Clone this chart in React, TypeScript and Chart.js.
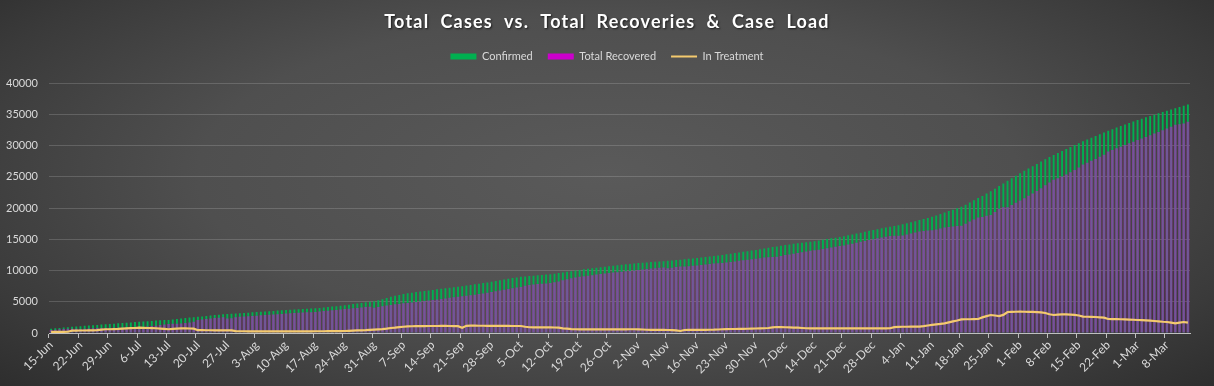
import React, { useEffect, useRef } from "react";
import { Chart, registerables } from "chart.js";

Chart.register(...registerables);

const TITLE = "Total  Cases  vs.  Total  Recoveries  &  Case  Load";
const SERIES_NAMES = ["Confirmed", "Total Recovered", "In Treatment"];
const SERIES_COLORS = ["#00b050", "#cc00cc", "#f4ca6e"];
const START_DATE = "2020-06-15";
const DAY_COUNT = 272;
const MONTHS = ["Jan", "Feb", "Mar", "Apr", "May", "Jun", "Jul", "Aug", "Sep", "Oct", "Nov", "Dec"];
const TICK_EVERY = 7;
const Y_TICKS = [0, 5000, 10000, 15000, 20000, 25000, 30000, 35000, 40000];

// one row per week, starting 15-Jun
const confirmed: number[] = [
  700, 760, 820, 880, 930, 990, 1050,
  1100, 1150, 1200, 1250, 1300, 1350, 1400,
  1450, 1500, 1550, 1600, 1650, 1700, 1750,
  1800, 1840, 1890, 1940, 1990, 2030, 2070,
  2100, 2170, 2240, 2320, 2400, 2470, 2540,
  2600, 2660, 2730, 2800, 2870, 2930, 2990,
  3050, 3090, 3140, 3180, 3220, 3260, 3310,
  3350, 3400, 3440, 3490, 3540, 3590, 3630,
  3680, 3720, 3760, 3800, 3840, 3880, 3910,
  3950, 4020, 4090, 4160, 4230, 4300, 4370,
  4450, 4540, 4630, 4720, 4810, 4910, 5000,
  5100, 5250, 5400, 5600, 5800, 5950, 6100,
  6250, 6350, 6450, 6550, 6650, 6730, 6820,
  6900, 6990, 7080, 7170, 7250, 7340, 7420,
  7500, 7600, 7700, 7800, 7900, 8000, 8100,
  8200, 8310, 8430, 8550, 8670, 8790, 8900,
  9000, 9060, 9120, 9180, 9240, 9300, 9350,
  9400, 9500, 9600, 9700, 9800, 9900, 10000,
  10100, 10190, 10280, 10370, 10460, 10540, 10620,
  10700, 10770, 10840, 10910, 10990, 11060, 11130,
  11200, 11250, 11300, 11350, 11400, 11450, 11500,
  11550, 11610, 11680, 11740, 11810, 11870, 11940,
  12000, 12080, 12170, 12250, 12340, 12420, 12510,
  12600, 12700, 12800, 12900, 13000, 13100, 13200,
  13300, 13410, 13530, 13640, 13760, 13870, 13990,
  14100, 14190, 14280, 14370, 14450, 14540, 14620,
  14700, 14810, 14930, 15040, 15160, 15270, 15390,
  15500, 15640, 15780, 15920, 16070, 16210, 16360,
  16500, 16630, 16760, 16890, 17020, 17150, 17270,
  17400, 17570, 17740, 17910, 18080, 18250, 18420,
  18600, 18830, 19060, 19290, 19520, 19750, 19980,
  20200, 20550, 20900, 21250, 21600, 21950, 22320,
  22700, 23110, 23520, 23940, 24360, 24780, 25190,
  25600, 25970, 26340, 26710, 27080, 27460, 27830,
  28200, 28510, 28830, 29140, 29460, 29770, 30090,
  30400, 30690, 30970, 31260, 31540, 31830, 32110,
  32400, 32640, 32890, 33130, 33370, 33620, 33860,
  34100, 34310, 34530, 34740, 34960, 35170, 35390,
  35600, 35800, 36000, 36200, 36400, 36600,
];

const recovered: number[] = [
  470, 530, 590, 650, 680, 690, 700,
  650, 700, 730, 780, 800, 810, 820,
  800, 830, 850, 860, 870, 880, 900,
  900, 970, 1040, 1110, 1180, 1280, 1370,
  1450, 1470, 1490, 1520, 1600, 1700, 1790,
  2100, 2160, 2240, 2310, 2390, 2450, 2510,
  2320, 2370, 2540, 2600, 2640, 2690, 2740,
  2780, 2830, 2870, 2920, 2970, 3020, 3060,
  3110, 3150, 3190, 3230, 3270, 3310, 3340,
  3370, 3440, 3510, 3570, 3640, 3700, 3770,
  3830, 3890, 3950, 4000, 4080, 4160, 4200,
  4050, 4170, 4280, 4400, 4500, 4600, 4650,
  4750, 4800, 4870, 4950, 5050, 5120, 5200,
  5280, 5370, 5450, 5540, 5630, 5730, 5820,
  5900, 5950, 6030, 6130, 6240, 6340, 6450,
  6550, 6670, 6790, 6920, 7040, 7170, 7280,
  7370, 7550, 7690, 7770, 7830, 7890, 7940,
  7990, 8110, 8240, 8440, 8590, 8770, 8890,
  8990, 9080, 9170, 9260, 9350, 9440, 9520,
  9600, 9670, 9730, 9800, 9880, 9940, 10010,
  10090, 10170, 10260, 10330, 10380, 10430, 10480,
  10380, 10460, 10570, 10630, 10640, 10680, 10750,
  10800, 10880, 10960, 11030, 11110, 11160, 11210,
  11280, 11360, 11460, 11550, 11640, 11720, 11800,
  11880, 11970, 12070, 12140, 12160, 12210, 12340,
  12470, 12580, 12700, 12810, 12940, 13070, 13160,
  13240, 13350, 13470, 13580, 13700, 13810, 13930,
  14030, 14170, 14310, 14450, 14600, 14740, 14890,
  15030, 15160, 15290, 15420, 15540, 15580, 15590,
  15600, 15770, 15930, 16100, 16260, 16350, 16420,
  16440, 16590, 16750, 16880, 16960, 17040, 17120,
  17160, 17490, 17840, 18170, 18500, 18590, 18760,
  18900, 19390, 19880, 20120, 20150, 20480, 20870,
  21210, 21590, 21970, 22350, 22750, 23180, 23650,
  24110, 24540, 24790, 25060, 25390, 25730, 26100,
  26500, 26970, 27270, 27580, 27880, 28230, 28560,
  29060, 29310, 29570, 29830, 30090, 30370, 30640,
  30910, 31150, 31400, 31650, 31930, 32200, 32480,
  32730, 33040, 33340, 33440, 33530, 33840,
];

const inTreatment: number[] = [
  180, 180, 180, 180, 200, 380, 380,
  400, 400, 420, 420, 450, 550, 600,
  600, 620, 650, 700, 750, 780, 800,
  850, 820, 800, 780, 760, 700, 650,
  600, 650, 700, 750, 750, 720, 700,
  450, 450, 440, 440, 430, 430, 430,
  430, 420, 300, 280, 280, 270, 270,
  270, 270, 270, 270, 270, 270, 270,
  270, 270, 270, 270, 270, 270, 270,
  280, 280, 280, 290, 290, 300, 300,
  320, 350, 380, 420, 430, 450, 500,
  550, 580, 620, 700, 800, 850, 950,
  1000, 1050, 1080, 1100, 1100, 1110, 1120,
  1120, 1120, 1130, 1130, 1120, 1110, 1100,
  850, 1150, 1170, 1170, 1160, 1160, 1150,
  1150, 1140, 1140, 1130, 1130, 1120, 1120,
  1120, 1000, 920, 900, 900, 900, 900,
  900, 880, 850, 750, 700, 620, 600,
  590, 590, 590, 590, 590, 580, 580,
  580, 580, 590, 590, 590, 600, 600,
  590, 560, 520, 500, 500, 500, 500,
  480, 460, 420, 320, 480, 500, 500,
  500, 500, 510, 520, 530, 560, 600,
  620, 640, 640, 650, 660, 680, 700,
  720, 740, 760, 800, 900, 960, 950,
  920, 900, 870, 850, 800, 760, 750,
  750, 750, 750, 750, 750, 750, 750,
  750, 750, 750, 750, 750, 750, 750,
  750, 750, 750, 750, 760, 950, 980,
  1000, 1000, 1010, 1010, 1020, 1100, 1200,
  1300, 1380, 1450, 1550, 1700, 1850, 2000,
  2180, 2200, 2200, 2220, 2240, 2500, 2700,
  2880, 2800, 2720, 2900, 3360, 3380, 3400,
  3410, 3400, 3390, 3380, 3350, 3300, 3200,
  3000, 2880, 2950, 2990, 2980, 2950, 2900,
  2800, 2620, 2600, 2580, 2560, 2500, 2450,
  2240, 2230, 2220, 2200, 2180, 2150, 2120,
  2080, 2050, 2020, 1980, 1920, 1860, 1800,
  1760, 1650, 1550, 1650, 1760, 1650,
];

function buildDayLabels(): string[] {
  const out: string[] = [];
  const start = new Date(START_DATE + "T00:00:00Z");
  for (let i = 0; i < DAY_COUNT; i++) {
    const d = new Date(start.getTime() + i * 86400000);
    out.push(`${d.getUTCDate()}-${MONTHS[d.getUTCMonth()]}`);
  }
  return out;
}

const FONT = "Lato, 'Open Sans', sans-serif";

const titlePlugin = {
  id: "customTitle",
  afterDraw(chart: any) {
    const ctx = chart.ctx as CanvasRenderingContext2D;
    ctx.save();
    ctx.font = `bold 18px ${FONT}`;
    (ctx as any).letterSpacing = "1.2px";
    ctx.textAlign = "center";
    ctx.textBaseline = "middle";
    ctx.shadowColor = "rgba(0,0,0,0.65)";
    ctx.shadowOffsetX = 1;
    ctx.shadowOffsetY = 1.5;
    ctx.shadowBlur = 2;
    ctx.fillStyle = "#ffffff";
    ctx.fillText(TITLE, chart.width / 2, 22);
    ctx.restore();
  },
};

export default function App() {
  const ref = useRef<HTMLCanvasElement | null>(null);

  useEffect(() => {
    const canvas = ref.current;
    if (!canvas) return;
    const labels = buildDayLabels();
    const chart = new Chart(canvas, {
      type: "bar",
      data: {
        labels,
        datasets: [
          {
            type: "bar",
            label: SERIES_NAMES[0],
            data: confirmed,
            backgroundColor: SERIES_COLORS[0],
            borderWidth: 0,
            grouped: false,
            categoryPercentage: 1,
            barPercentage: 0.45,
            order: 2,
            pointStyle: "rect",
          } as any,
          {
            type: "bar",
            label: SERIES_NAMES[1],
            data: recovered,
            backgroundColor: "rgba(200,20,210,0.55)",
            borderWidth: 0,
            grouped: false,
            categoryPercentage: 1,
            barPercentage: 0.65,
            order: 1,
            pointStyle: "rect",
          } as any,
          {
            type: "line",
            label: SERIES_NAMES[2],
            data: inTreatment,
            borderColor: SERIES_COLORS[2],
            backgroundColor: SERIES_COLORS[2],
            borderWidth: 2.2,
            pointRadius: 0,
            pointStyle: "line",
            tension: 0,
            order: 0,
          } as any,
        ],
      },
      plugins: [titlePlugin],
      options: {
        responsive: false,
        animation: false,
        layout: { padding: { left: 0, right: 0, top: 36, bottom: 0 } },
        plugins: {
          tooltip: { enabled: false },
          title: { display: false },
          subtitle: {
            display: true,
            text: "",
            weight: 500,
            font: { size: 1 },
            padding: { top: 10, bottom: 0 },
          } as any,
          legend: {
            display: true,
            position: "top",
            labels: {
              color: "#d9d9d9",
              font: { family: FONT, size: 11 },
              usePointStyle: true,
              pointStyleWidth: 26,
              boxHeight: 6,
              padding: 15,
              sort: (a: any, b: any) => a.datasetIndex - b.datasetIndex,
              generateLabels: (c: any) => {
                const items = Chart.defaults.plugins.legend.labels.generateLabels(c);
                items.forEach((it: any) => {
                  it.fillStyle = SERIES_COLORS[it.datasetIndex];
                  it.strokeStyle = SERIES_COLORS[it.datasetIndex];
                  it.lineWidth = it.datasetIndex === 2 ? 2 : 0;
                });
                return items;
              },
            },
          },
        },
        scales: {
          x: {
            type: "category",
            offset: true,
            afterFit: (s: any) => {
              s.height = 53;
            },
            grid: {
              offset: true,
              drawOnChartArea: false,
              drawTicks: true,
              tickLength: 5,
              color: (c: any) => (c.index % TICK_EVERY === 0 ? "#bfbfbf" : "rgba(0,0,0,0)"),
            },
            border: { display: true, color: "#bfbfbf", width: 1 },
            ticks: {
              autoSkip: false,
              maxRotation: 45,
              minRotation: 45,
              color: "#d9d9d9",
              font: { family: FONT, size: 12 },
              padding: 0,
              callback: (_v: any, i: number) => (i % TICK_EVERY === 0 ? labels[i] : ""),
            },
          },
          y: {
            min: Y_TICKS[0],
            max: Y_TICKS[Y_TICKS.length - 1],
            afterFit: (s: any) => {
              s.width = 49;
            },
            grid: { color: "rgba(255,255,255,0.16)", drawTicks: false },
            border: { display: false },
            ticks: {
              stepSize: Y_TICKS[1] - Y_TICKS[0],
              color: "#d9d9d9",
              font: { family: FONT, size: 11 },
              padding: 11,
              callback: (v: any) => String(v),
            },
          },
          yPad: {
            position: "right",
            display: true,
            afterFit: (s: any) => {
              s.width = 24;
            },
            grid: { display: false },
            border: { display: false },
            ticks: { display: false },
          } as any,
        },
      },
    });
    return () => chart.destroy();
  }, []);

  return (
    <div
      style={{
        position: "fixed",
        left: 0,
        top: 0,
        width: 1214,
        height: 386,
        background:
          "radial-gradient(ellipse 75% 90% at 50% 45%, #5a5a5a 0%, #4f4f4f 45%, #3a3a3a 75%, #262626 100%)",
      }}
    >
      <canvas ref={ref} width={1214} height={386} style={{ display: "block", width: 1214, height: 386 }} />
    </div>
  );
}
